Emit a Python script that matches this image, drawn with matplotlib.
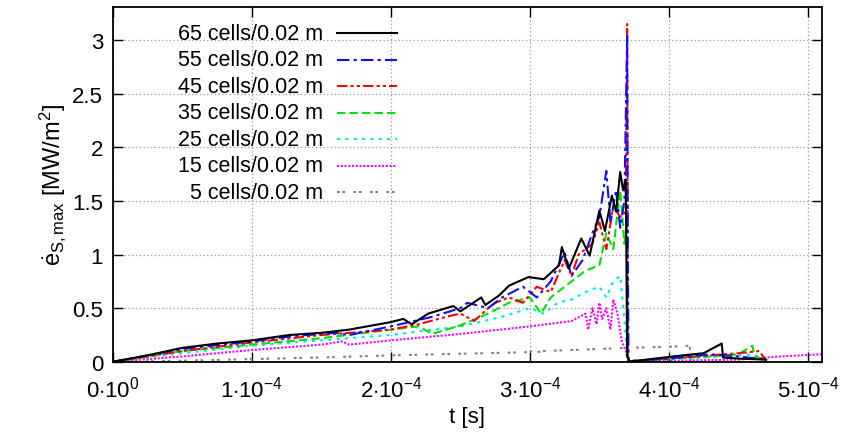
import numpy as np
import matplotlib
matplotlib.use('Agg')
import matplotlib.pyplot as plt

plt.rcParams['font.family'] = ['Liberation Sans', 'DejaVu Sans']
plt.rcParams['mathtext.fontset'] = 'custom'
plt.rcParams['mathtext.rm'] = 'Liberation Sans'
plt.rcParams['mathtext.it'] = 'Liberation Sans'
plt.rcParams['mathtext.bf'] = 'Liberation Sans:bold'

# time in units of 1e-4 s, heat flux in MW/m^2
t65 = [0, 0.25, 0.5, 0.75, 1.0, 1.27, 1.5, 1.7, 2.0, 2.09, 2.15, 2.27, 2.45, 2.5, 2.65, 2.68, 2.78, 2.85,
       2.99, 3.1, 3.21, 3.23, 3.28, 3.37, 3.43, 3.5, 3.54, 3.59, 3.62, 3.65, 3.67, 3.69, 3.70, 3.72,
       3.9, 4.1, 4.25, 4.38, 4.39, 4.5, 4.7]
e65 = [0, 0.06, 0.13, 0.17, 0.2, 0.25, 0.27, 0.3, 0.37, 0.4, 0.35, 0.45, 0.52, 0.47, 0.6, 0.53, 0.62, 0.71,
       0.79, 0.77, 0.9, 1.07, 0.87, 1.15, 0.99, 1.41, 1.22, 1.55, 1.4, 1.77, 1.6, 1.7, 0.05, 0.0,
       0.03, 0.06, 0.08, 0.17, 0.04, 0.03, 0.02]

t55 = [0, 0.5, 1.0, 1.3, 1.6, 1.7, 2.0, 2.3, 2.5, 2.55, 2.7, 2.8, 2.95, 3.05, 3.15, 3.25, 3.3, 3.38, 3.45,
       3.5, 3.55, 3.58, 3.62, 3.65, 3.68, 3.70, 3.705, 3.71, 3.75, 4.0, 4.3, 4.5, 4.7]
e55 = [0, 0.12, 0.19, 0.24, 0.27, 0.25, 0.33, 0.42, 0.5, 0.55, 0.5, 0.6, 0.7, 0.6, 0.75, 1.02, 0.8, 0.95, 1.2,
       1.35, 1.78, 1.3, 1.6, 1.25, 1.5, 3.05, 1.0, 0.0, 0.01, 0.03, 0.07, 0.05, 0.02]

t45 = [0, 0.5, 1.0, 1.5, 2.0, 2.2, 2.4, 2.5, 2.6, 2.7, 2.75, 2.85, 2.95, 3.05, 3.15, 3.25, 3.3, 3.35, 3.45,
       3.5, 3.55, 3.6, 3.65, 3.69, 3.70, 3.705, 3.75, 4.0, 4.3, 4.5, 4.65, 4.7]
e45 = [0, 0.1, 0.18, 0.25, 0.3, 0.35, 0.42, 0.45, 0.38, 0.5, 0.55, 0.6, 0.55, 0.7, 0.65, 0.95, 0.8, 1.0, 1.1,
       1.3, 1.05, 1.45, 1.35, 1.4, 3.15, 0.0, 0.01, 0.03, 0.06, 0.08, 0.1, 0.01]

t35 = [0, 0.5, 1.0, 1.5, 2.0, 2.2, 2.3, 2.5, 2.7, 2.85, 3.0, 3.08, 3.15, 3.3, 3.4, 3.5, 3.55, 3.6, 3.65, 3.68,
       3.70, 3.705, 3.75, 4.0, 4.3, 4.5, 4.6, 4.62, 4.7]
e35 = [0, 0.1, 0.16, 0.22, 0.3, 0.33, 0.26, 0.34, 0.45, 0.55, 0.6, 0.45, 0.6, 0.75, 0.85, 0.9, 1.2, 1.05, 1.6,
       1.1, 1.3, 0.0, 0.01, 0.03, 0.05, 0.07, 0.15, 0.05, 0.02]

t25 = [0, 0.5, 1.0, 1.5, 2.0, 2.5, 2.8, 3.0, 3.1, 3.2, 3.3, 3.4, 3.5, 3.55, 3.6, 3.65, 3.68, 3.70, 3.72,
       4.0, 4.4, 4.6, 4.7]
e25 = [0, 0.08, 0.15, 0.2, 0.25, 0.33, 0.42, 0.5, 0.45, 0.55, 0.58, 0.65, 0.7, 0.6, 0.75, 0.8, 0.4, 0.05, 0.0,
       0.02, 0.05, 0.07, 0.02]

t15 = [0, 0.5, 1.0, 1.5, 1.65, 1.7, 2.0, 2.5, 3.0, 3.3, 3.4, 3.42, 3.45, 3.48, 3.5, 3.52, 3.55, 3.58, 3.6,
       3.63, 3.66, 3.69, 3.70, 3.72, 4.0, 4.5, 4.8, 5.1]
e15 = [0, 0.05, 0.11, 0.16, 0.19, 0.16, 0.2, 0.26, 0.33, 0.38, 0.45, 0.3, 0.5, 0.35, 0.55, 0.4, 0.5, 0.3, 0.58,
       0.45, 0.2, 0.1, 0.05, 0.0, 0.01, 0.02, 0.05, 0.07]

t5 = [0, 0.5, 1.0, 1.5, 2.0, 2.5, 3.0, 3.04, 3.05, 3.1, 3.5, 3.7, 4.0, 4.15, 4.16]
e5 = [0, 0.01, 0.025, 0.04, 0.06, 0.075, 0.09, 0.12, 0.09, 0.1, 0.12, 0.13, 0.14, 0.15, 0.0]

labels = ['65 cells/0.02 m', '55 cells/0.02 m', '45 cells/0.02 m', '35 cells/0.02 m',
          '25 cells/0.02 m', '15 cells/0.02 m', '5 cells/0.02 m']
series = [(t65, e65), (t55, e55), (t45, e45), (t35, e35), (t25, e25), (t15, e15), (t5, e5)]
colors = ['black', '#1010ff', '#ff0000', '#00e000', '#00e8e8', '#ff00ff', '#808080']
styles = ['-', (0, (6, 2, 1.5, 2)), (0, (5, 1.5, 1.5, 1.5, 1.5, 1.5)), (0, (4, 2)),
          (0, (1.5, 2.5)), (0, (1, 0.8)), (0, (1.3, 1.3, 1.3, 4))]

fig = plt.figure(figsize=(8.42, 4.35), dpi=100)
ax = fig.add_axes([0.134, 0.166, 0.842, 0.816])

# plot in reverse so the fine grids end up on top like the original
for (t, e), c, ls in reversed(list(zip(series, colors, styles))):
    ax.plot(np.array(t) * 1e-4, e, color=c, linestyle=ls, lw=1.5)

ax.set_xlim(0, 5.1e-4)
ax.set_ylim(0, 3.31)
xt = [0, 1e-4, 2e-4, 3e-4, 4e-4, 5e-4]
ax.set_xticks(xt)
ax.set_xticklabels([r'$0{\cdot}10^{0}$'] + [r'$%d{\cdot}10^{-4}$' % i for i in range(1, 6)])
ax.set_yticks([0, 0.5, 1, 1.5, 2, 2.5, 3])
ax.set_yticklabels(['0', '0.5', '1', '1.5', '2', '2.5', '3'])
ax.tick_params(direction='in', length=7, width=1, top=True, right=True, labelsize=16)
ax.tick_params(axis='x', pad=10)
ax.tick_params(axis='y', pad=7)
ax.grid(True, color='#999999', linestyle=(0, (1, 2)), lw=0.9)
for s in ax.spines.values():
    s.set_linewidth(1.3)

ax.set_xlabel('t [s]', fontsize=16, labelpad=3)
ax.set_ylabel(r'$\dot{\rm e}_{\rm S,max}$ [MW/m$^2$]', fontsize=17, labelpad=3)

# gnuplot-style key: right-aligned text, sample line to the right
for i, (lab, c, ls) in enumerate(zip(labels, colors, styles)):
    y = 0.925 - i * 0.0745
    ax.text(0.296, y, lab, transform=ax.transAxes, ha='right', va='center', fontsize=15.5)
    ax.plot([0.316, 0.401], [y, y], transform=ax.transAxes, color=c, linestyle=ls, lw=1.5)

fig.savefig('out.png', dpi=100)
